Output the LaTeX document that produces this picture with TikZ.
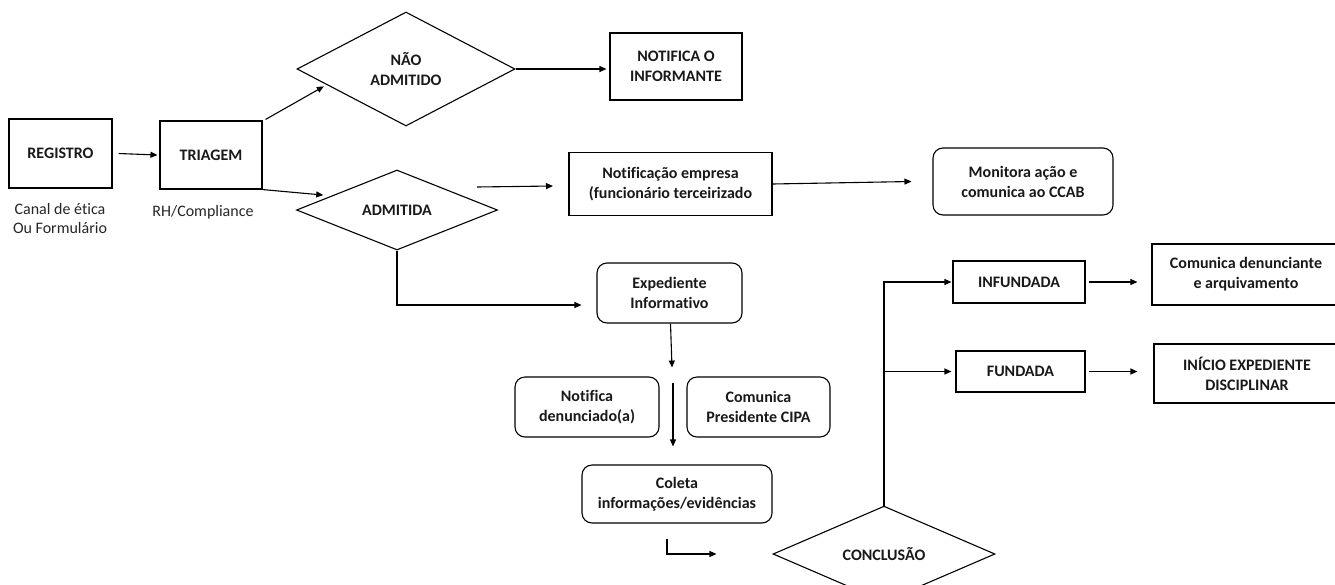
\documentclass[tikz,border=0pt]{standalone}
\usepackage{fontspec}
\setmainfont{Carlito}[Ligatures=CommonOff]
\usetikzlibrary{arrows.meta,shapes.geometric,calc}
\tikzset{
  base/.style={draw=black, line width=1.1pt, inner sep=0pt, align=center,
    font=\fontsize{16}{20}\selectfont\bfseries, text=black!90},
  sqbox/.style={base, rectangle},
  rbox/.style={base, rectangle, rounded corners=10pt},
  dia/.style={base, diamond},
  lbl/.style={inner sep=0pt, align=center, font=\fontsize{16}{19.5}\selectfont, text=black!85},
  arr/.style={draw=black, line width=1.1pt, -{Triangle[length=7pt,width=6pt]}}
}
\begin{document}
\begin{tikzpicture}[x=1pt,y=-1pt]
\useasboundingbox (0,0) rectangle (1335,584);
\clip (0,0) rectangle (1335,584);
\fill[white] (0,0) rectangle (1335,584);

% boxes
\node[sqbox, minimum width=103, minimum height=69] (reg) at (60.5,153.5) {REGISTRO};
\node[sqbox, minimum width=102, minimum height=68] (trig) at (211,155) {TRIAGEM};
\node[dia, minimum width=218, minimum height=114] (nao) at (406,69) {NÃO\\ADMITIDO};
\node[sqbox, minimum width=132, minimum height=67] (notif) at (676,66.5) {NOTIFICA O\\INFORMANTE};
\node[dia, minimum width=201, minimum height=66] (adm) at (397,210) {ADMITIDA};
\node[sqbox, minimum width=203, minimum height=63] (notemp) at (670.5,184) {Notificação empresa\\(funcionário terceirizado};
\node[rbox, minimum width=180, minimum height=67] (mon) at (1023,181.5) {Monitora ação e\\comunica ao CCAB};
\node[rbox, minimum width=145, minimum height=60] (exp) at (669.5,293) {Expediente\\Informativo};
\node[rbox, minimum width=144, minimum height=60] (notden) at (587,407) {Notifica\\denunciado(a)};
\node[rbox, minimum width=143, minimum height=60] (comcipa) at (758.5,407) {Comunica\\Presidente CIPA};
\node[rbox, minimum width=190, minimum height=58] (coleta) at (677,494) {Coleta\\informações/evidências};
\node[dia, minimum width=222, minimum height=68] (conc) at (884,554) {CONCLUSÃO};
\node[sqbox, minimum width=132, minimum height=42] (infund) at (1019,282) {INFUNDADA};
\node[sqbox, minimum width=129, minimum height=41] (fund) at (1020.5,371.5) {FUNDADA};
\node[sqbox, minimum width=188, minimum height=61] (comden) at (1246,274.5) {Comunica denunciante\\e arquivamento};
\node[sqbox, minimum width=186, minimum height=59] (inicio) at (1247,373.5) {INÍCIO EXPEDIENTE\\DISCIPLINAR};

% labels
\node[lbl] (lreg) at (60,218.5) {Canal de ética\\Ou Formulário};
\node[lbl] (ltrig) at (203,212) {RH/Compliance};

% free coordinates
\coordinate (a1) at (477,187);
\coordinate (a2) at (553,186);

% connectors
\draw[arr] ([xshift=6]reg.east) -- ([xshift=-2]trig.west);
\draw[arr] ([shift={(3,-1)}]trig.north east) -- ($(nao.west)!0.25!(nao.south)+(0,3)$);
\draw[arr] (trig.south east) -- ($(adm.west)!0.27!(adm.north)+(0,-4)$);
\draw[arr] (nao.east) -- ($(nao.east -| notif.west)+(-3,0)$);
\draw[arr] (a1) -- (a2);
\draw[arr] (notemp.east) -- ($(mon.west)+(-21,0)$);
\draw[arr] (adm.south) |- ($(exp.west)+(-15,12)$);
\draw[arr] ([xshift=1]exp.south) -- ($(exp.south)+(2.5,44)$);
\draw[arr] ($(notden.north east)!0.5!(comcipa.north west)+(0,7)$) -- ($(notden.north east)!0.5!(comcipa.north west)+(0,70)$);
\draw[arr] ($(coleta.south)+(-10,15)$) |- ($(conc.west)+(-56,0)$);
\draw[arr] (conc.north) |- ([xshift=-1]infund.west);
\draw[arr] (conc.north |- fund.west) -- ([xshift=-4]fund.west);
\draw[arr] ([xshift=3]infund.east) -- ($(infund.east -| comden.west)+(-14,0)$);
\draw[arr] ([xshift=3]fund.east) -- ($(fund.east -| inicio.west)+(-16,0)$);
\end{tikzpicture}
\end{document}
